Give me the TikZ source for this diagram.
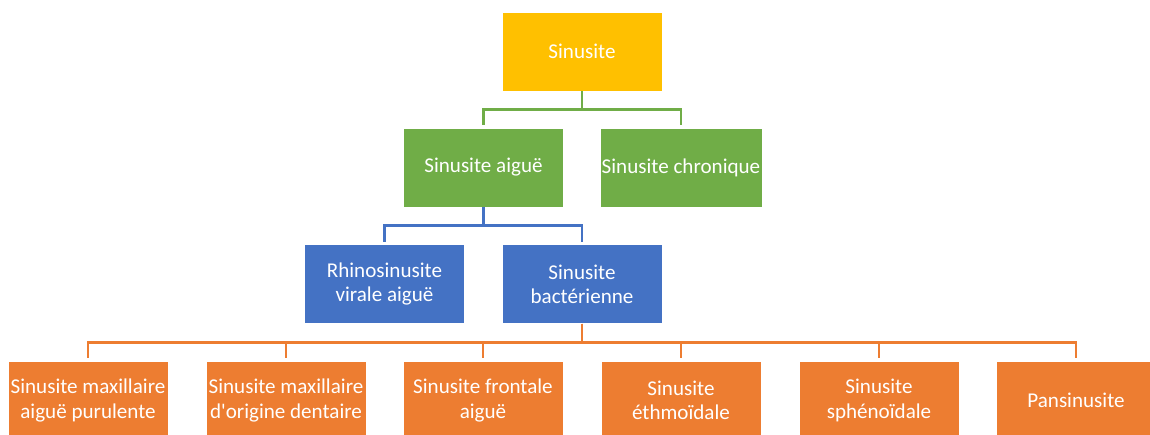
\documentclass[tikz,border=0pt]{standalone}
\usepackage{fontspec}
\setmainfont{Carlito}
\definecolor{cyel}{HTML}{FFC000}
\definecolor{cgrn}{HTML}{70AD47}
\definecolor{cblu}{HTML}{4472C4}
\definecolor{corg}{HTML}{ED7D31}
\begin{document}
\begin{tikzpicture}[x=0.02cm,y=-0.02cm,
  box/.style={draw=white,line width=0.4pt,minimum width=3.2cm,minimum height=1.58cm,
    inner sep=1pt,align=center,text=white,font=\fontsize{12pt}{13.8pt}\selectfont},
  conn/.style={line width=1.2pt}]
\useasboundingbox (0,0) rectangle (1150,434);
\node[box,fill=cyel] (top) at (582,51.5) {Sinusite};
\node[box,fill=cgrn] (g1) at (483.5,167.5) {Sinusite aiguë};
\node[box,fill=cgrn] (g2) at (681,167.5) {Sinusite chronique};
\node[box,fill=cblu] (b1) at (384.5,284) {Rhinosinusite\\virale aiguë};
\node[box,fill=cblu] (b2) at (582,284) {Sinusite\\bactérienne};
\node[box,fill=corg] (o1) at (88,400.5) {Sinusite maxillaire\\aiguë purulente};
\node[box,fill=corg] (o2) at (286,400.5) {Sinusite maxillaire\\d\textquotesingle origine dentaire};
\node[box,fill=corg] (o3) at (483,400.5) {Sinusite frontale\\aiguë};
\node[box,fill=corg] (o4) at (681,400.5) {Sinusite\\éthmoïdale};
\node[box,fill=corg] (o5) at (879,400.5) {Sinusite\\sphénoïdale};
\node[box,fill=corg] (o6) at (1076,400.5) {Pansinusite};
\coordinate (bus1) at (0,109.5);
\coordinate (bus2) at (0,225.5);
\coordinate (bus3) at (0,342.5);
\draw[conn,cgrn,shorten >=1.5pt] (top.south) -- (top.south |- bus1) -| (g1.north);
\draw[conn,cgrn,shorten >=1.5pt] (top.south |- bus1) -| (g2.north);
\draw[conn,cblu,shorten >=1.5pt] (g1.south) -- (g1.south |- bus2) -| (b1.north);
\draw[conn,cblu,shorten >=1.5pt] (g1.south |- bus2) -| (b2.north);
\foreach \o in {o1,o2,o3,o4,o5,o6}{
  \draw[conn,corg,shorten >=1.5pt] (b2.south) -- (b2.south |- bus3) -| (\o.north);
}
\end{tikzpicture}
\end{document}
